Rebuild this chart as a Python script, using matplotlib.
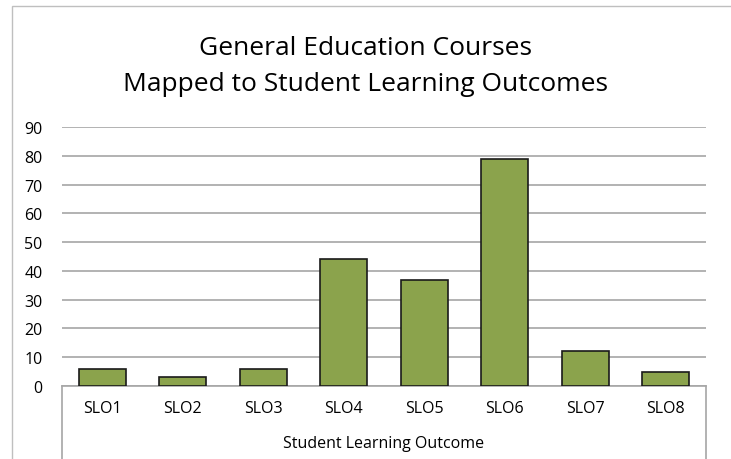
import matplotlib.pyplot as plt
from matplotlib.patches import Rectangle
from matplotlib.lines import Line2D

categories = ['SLO1', 'SLO2', 'SLO3', 'SLO4', 'SLO5', 'SLO6', 'SLO7', 'SLO8']
counts = [6, 3, 6, 44, 37, 79, 12, 5]
y_ticks = [0, 10, 20, 30, 40, 50, 60, 70, 80, 90]

W, H = 731, 460
fig = plt.figure(figsize=(W / 100, H / 100), dpi=100)
plt.rcParams['font.family'] = ['Open Sans', 'DejaVu Sans']

# plot area in pixels: x 62..706, y 128..387
x0, x1, ytop, ybot = 62, 706, 128, 387
ax = fig.add_axes([x0 / W, 1 - ybot / H, (x1 - x0) / W, (ybot - ytop) / H])

x = list(range(len(categories)))
ax.bar(x, counts, width=0.58, color='#8BA34C', edgecolor='#1a1a1a', linewidth=1.2, zorder=3)

ax.set_xlim(-0.5, len(categories) - 0.5)
ax.set_ylim(0, 90)
ax.set_yticks(y_ticks)
ax.yaxis.grid(True, color='#a6a6a6', linewidth=1.2, zorder=0)
ax.tick_params(axis='y', length=0, labelsize=11.5, pad=14)
ax.tick_params(axis='x', length=0, labelsize=11.5, pad=10)
ax.set_xticks(x)
ax.set_xticklabels(categories)
for s in ['top', 'right', 'left']:
    ax.spines[s].set_visible(False)
ax.spines['bottom'].set_color('#a6a6a6')
ax.spines['bottom'].set_linewidth(1.2)

ax.set_xlabel('Student Learning Outcome', fontsize=11.5, labelpad=14)

# category box lines below the axis
for px in (x0, x1):
    fig.add_artist(Line2D([px / W, px / W], [1 - ybot / H, 0], color='#a6a6a6', lw=1.2))

# outer chart border (cropped screenshot)
fig.add_artist(Rectangle((12 / W, -0.1), 1.2, 1 - 7 / H + 0.1, fill=False,
                         edgecolor='#bfbfbf', lw=1.0, transform=fig.transFigure))

fig.text(0.5, 1 - 49 / H, 'General Education Courses', ha='center', va='center', fontsize=19)
fig.text(0.5, 1 - 85 / H, 'Mapped to Student Learning Outcomes', ha='center', va='center', fontsize=19)

fig.savefig('out.png', dpi=100)
